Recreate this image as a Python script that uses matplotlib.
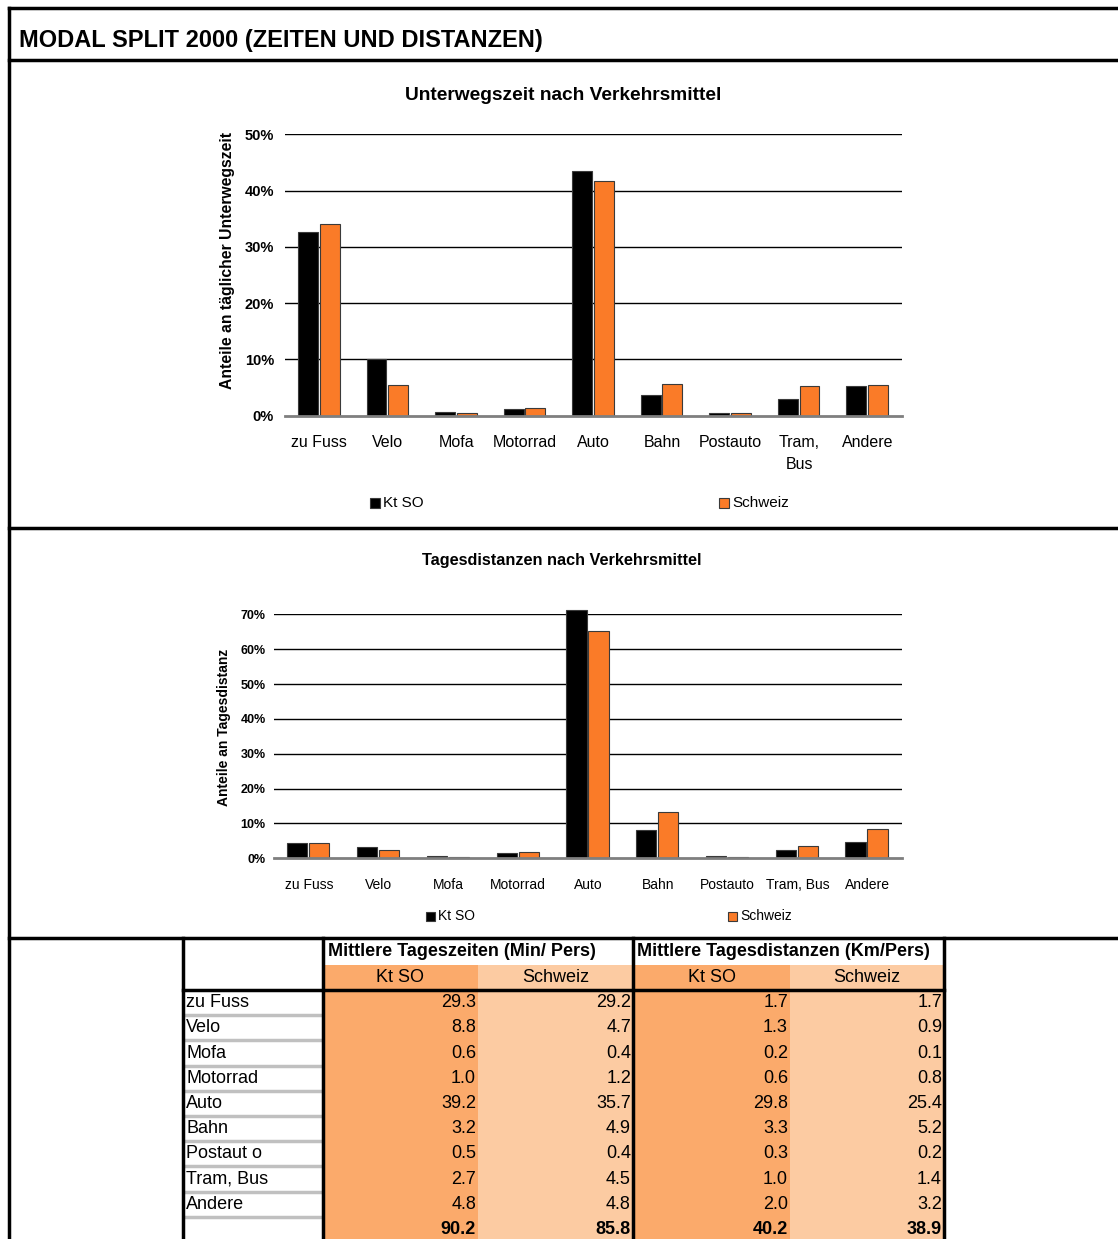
import matplotlib
matplotlib.use("Agg")
import matplotlib.pyplot as plt
from matplotlib.patches import Rectangle
import numpy as np

plt.rcParams['font.family'] = ['Liberation Sans', 'DejaVu Sans']

# ---- data ----
modes = ["zu Fuss", "Velo", "Mofa", "Motorrad", "Auto", "Bahn", "Postauto", "Tram, Bus", "Andere"]
modes_tick_top = ["zu Fuss", "Velo", "Mofa", "Motorrad", "Auto", "Bahn", "Postauto", "Tram,\nBus", "Andere"]
series = ["Kt SO", "Schweiz"]

# shares (%)
zeit_ktso = [32.6, 10.0, 0.7, 1.2, 43.5, 3.7, 0.55, 3.0, 5.3]
zeit_ch = [34.1, 5.5, 0.5, 1.4, 41.7, 5.6, 0.5, 5.3, 5.5]
dist_ktso = [4.4, 3.2, 0.8, 1.5, 71.2, 8.2, 0.8, 2.5, 4.7]
dist_ch = [4.3, 2.4, 0.4, 1.8, 65.2, 13.3, 0.4, 3.5, 8.4]

# table values
table_rows = ["zu Fuss", "Velo", "Mofa", "Motorrad", "Auto", "Bahn", "Postaut o", "Tram, Bus", "Andere"]
min_ktso = [29.3, 8.8, 0.6, 1.0, 39.2, 3.2, 0.5, 2.7, 4.8]
min_ch = [29.2, 4.7, 0.4, 1.2, 35.7, 4.9, 0.4, 4.5, 4.8]
km_ktso = [1.7, 1.3, 0.2, 0.6, 29.8, 3.3, 0.3, 1.0, 2.0]
km_ch = [1.7, 0.9, 0.1, 0.8, 25.4, 5.2, 0.2, 1.4, 3.2]
totals = [90.2, 85.8, 40.2, 38.9]

BLACK = "#000000"
ORANGE = "#FA7B28"
COL_DARK = "#FBAA6B"
COL_LIGHT = "#FCCBA2"
EDGE = "#3a3a3a"

W, H = 1118, 1239
fig = plt.figure(figsize=(W / 100, H / 100), dpi=100)

# overlay axes in pixel coordinates
bg = fig.add_axes([0, 0, 1, 1], zorder=0)
bg.set_xlim(0, W)
bg.set_ylim(H, 0)
bg.axis("off")


def rect_ax(left, top, right, bottom):
    return [left / W, 1 - bottom / H, (right - left) / W, (bottom - top) / H]


def bar_chart(pos, v1, v2, ymax, ticklabels, tick_fs, tick_pad, xl_fs, ylabel, yl_fs, yl_xy):
    ax = fig.add_axes(pos, zorder=2)
    x = np.arange(len(v1))
    ax.bar(x - 0.165, np.array(v1) / 100, width=0.29, color=BLACK, edgecolor=EDGE,
           linewidth=0.8, zorder=3, clip_on=False)
    ax.bar(x + 0.15, np.array(v2) / 100, width=0.29, color=ORANGE, edgecolor=EDGE,
           linewidth=0.8, zorder=3, clip_on=False)
    ax.set_xlim(-0.5, len(v1) - 0.5)
    ax.set_ylim(0, ymax)
    ticks = np.arange(0, ymax + 0.001, 0.1)
    ax.set_yticks(ticks)
    ax.set_yticklabels([f"{int(round(t * 100))}%" for t in ticks], fontweight="bold", fontsize=tick_fs)
    for t in ticks[1:]:
        ax.axhline(t, color="black", linewidth=1.0, zorder=1)
    ax.set_xticks(x)
    ax.set_xticklabels(ticklabels, fontsize=xl_fs, linespacing=1.55)
    ax.tick_params(axis="x", length=0, pad=14)
    ax.tick_params(axis="y", length=0, pad=tick_pad)
    for s in ["top", "right", "left"]:
        ax.spines[s].set_visible(False)
    ax.spines["bottom"].set_color("#7f7f7f")
    ax.spines["bottom"].set_linewidth(2)
    ax.spines["bottom"].set_zorder(4)
    ax.set_ylabel(ylabel, fontweight="bold", fontsize=yl_fs)
    ax.yaxis.set_label_coords(*yl_xy)
    return ax


# ---- chart 1 ----
ax1 = bar_chart(rect_ax(285, 134.3, 902, 415.7), zeit_ktso, zeit_ch, 0.5, modes_tick_top,
                10.5, 8, 11.5, "Anteile an täglicher Unterwegszeit", 11.3, (-0.081, 0.553))
bg.text(563, 95, "Unterwegszeit nach Verkehrsmittel", ha="center", va="center",
        fontsize=13.8, fontweight="bold")

# ---- chart 2 ----
ax2 = bar_chart(rect_ax(274, 614.3, 902, 858.3), dist_ktso, dist_ch, 0.7, modes,
                9, 6, 10, "Anteile an Tagesdistanz", 10, (-0.068, 0.538))
bg.text(562, 561, "Tagesdistanzen nach Verkehrsmittel", ha="center", va="center",
        fontsize=11.7, fontweight="bold")


def legend_item(x, y, color, label, size, fs):
    bg.add_patch(Rectangle((x, y - size / 2), size, size, facecolor=color, edgecolor=EDGE, linewidth=0.8))
    bg.text(x + size + 3, y, label, ha="left", va="center", fontsize=fs)


legend_item(370, 503, BLACK, series[0], 10, 11)
legend_item(719, 503, ORANGE, series[1], 10, 11)
legend_item(426, 916, BLACK, series[0], 9, 10)
legend_item(728, 916, ORANGE, series[1], 9, 10)

# ---- frame ----
lw = 2.5
bg.plot([9, W], [8, 8], color="black", lw=lw)
bg.plot([9, 9], [8, H], color="black", lw=lw)
bg.plot([9, W], [60, 60], color="black", lw=lw)
bg.plot([9, W], [528, 528], color="black", lw=lw)
bg.plot([9, W], [938, 938], color="black", lw=lw)
bg.text(19, 41, "MODAL SPLIT 2000 (ZEITEN UND DISTANZEN)", ha="left", va="center",
        fontsize=17, fontweight="bold")

# ---- table ----
cols = [183, 323, 478, 633, 790, 944]
row_h = 25.2
head2_top = 965
body_top = 990
colors = [COL_DARK, COL_LIGHT, COL_DARK, COL_LIGHT]
for i, c in enumerate(colors):
    bg.add_patch(Rectangle((cols[i + 1], head2_top), cols[i + 2] - cols[i + 1], H - head2_top,
                           facecolor=c, edgecolor="none", zorder=0.5))

bg.text(328, 952, "Mittlere Tageszeiten (Min/ Pers)", ha="left", va="center", fontsize=13, fontweight="bold")
bg.text(637, 952, "Mittlere Tagesdistanzen (Km/Pers)", ha="left", va="center", fontsize=13, fontweight="bold")
for i in range(4):
    bg.text((cols[i + 1] + cols[i + 2]) / 2, 977.5, series[i % 2], ha="center", va="center", fontsize=13)

columns = [min_ktso, min_ch, km_ktso, km_ch]
for r, name in enumerate(table_rows):
    yc = body_top + row_h * (r + 0.5)
    bg.text(186, yc, name, ha="left", va="center", fontsize=13)
    for i, col in enumerate(columns):
        bg.text(cols[i + 2] - 2, yc, f"{col[r]:.1f}", ha="right", va="center", fontsize=13)
    bg.plot([185, 321], [body_top + row_h * (r + 1)] * 2, color="#c0c0c0", lw=2.5, zorder=1)
yt = body_top + row_h * 9.5
for i, t in enumerate(totals):
    bg.text(cols[i + 2] - 2, yt, f"{t:.1f}", ha="right", va="center", fontsize=13, fontweight="bold")

for x in [183, 323, 633, 944]:
    bg.plot([x, x], [938, H], color="black", lw=2.5, zorder=2)
bg.plot([183, 944], [body_top, body_top], color="black", lw=2.5, zorder=2)

fig.savefig("out.png", dpi=100)
